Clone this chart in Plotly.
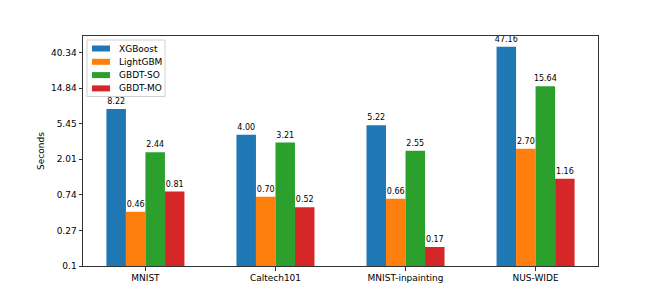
import math
import plotly.graph_objects as go

categories = ["MNIST", "Caltech101", "MNIST-inpainting", "NUS-WIDE"]
series_names = ["XGBoost", "LightGBM", "GBDT-SO", "GBDT-MO"]
xgboost = [8.22, 4.00, 5.22, 47.16]
lightgbm = [0.46, 0.70, 0.66, 2.70]
gbdt_so = [2.44, 3.21, 2.55, 15.64]
gbdt_mo = [0.81, 0.52, 0.17, 1.16]
colors = ["#1f77b4", "#ff7f0e", "#2ca02c", "#d62728"]
tick_labels = ["0.1", "0.27", "0.74", "2.01", "5.45", "14.84", "40.34"]
tick_values = [0.1 * math.e ** k for k in range(len(tick_labels))]

# page body has an 8px margin; compensate so the plot lands at the reference pixels
OFF = 8
W, H = 664 - OFF, 299 - OFF
L, R, T, B = 83 - OFF, 66, 36 - OFF, 33
PLOT_X0, PLOT_X1 = 83, 598
PLOT_Y0, PLOT_Y1 = 36, 266

def px(x):
    return (x - PLOT_X0) / (PLOT_X1 - PLOT_X0)

def py(y):
    return (PLOT_Y1 - y) / (PLOT_Y1 - PLOT_Y0)

fig = go.Figure()
for name, vals, c in zip(series_names, [xgboost, lightgbm, gbdt_so, gbdt_mo], colors):
    fig.add_trace(go.Bar(
        x=categories, y=vals, name=name, marker_color=c,
        marker_line_width=0,
        text=[f"{v:.2f}" for v in vals], textposition="outside",
        textfont=dict(size=8, color="black", family="DejaVu Sans"),
        cliponaxis=False, showlegend=False,
    ))

# legend drawn as box + patches + labels
shapes = [dict(type="rect", xref="paper", yref="paper",
               x0=px(87), x1=px(165), y0=py(96.5), y1=py(40),
               line=dict(color="#d0d0d0", width=1), fillcolor="rgba(255,255,255,0.85)",
               layer="above")]
annotations = []
row_y = [48.5, 61.8, 75.1, 88.4]
for name, c, ry in zip(series_names, colors, row_y):
    shapes.append(dict(type="rect", xref="paper", yref="paper",
                       x0=px(92), x1=px(110), y0=py(ry + 3), y1=py(ry - 3),
                       line=dict(width=0), fillcolor=c, layer="above"))
    annotations.append(dict(xref="paper", yref="paper", x=px(117), y=py(ry),
                            xanchor="left", yanchor="middle", text=name,
                            showarrow=False, font=dict(size=9, color="black")))

fig.update_layout(
    width=W, height=H,
    margin=dict(l=L, r=R, t=T, b=B),
    paper_bgcolor="white", plot_bgcolor="white",
    barmode="group", bargap=0.4, bargroupgap=0,
    font=dict(family="DejaVu Sans", size=9, color="black"),
    showlegend=False,
    uniformtext=dict(minsize=8, mode="show"),
    shapes=shapes, annotations=annotations,
)
fig.update_xaxes(range=[-0.48, 3.48], showline=True, linecolor="#333333", linewidth=1,
                 mirror=True, ticks="outside", ticklen=3.5, tickcolor="#333333",
                 showgrid=False, tickfont=dict(size=9), automargin=False)
fig.update_yaxes(type="log", range=[-1, math.log10(64)], showline=True, linecolor="#333333",
                 linewidth=1, mirror=True, ticks="outside", ticklen=3.5, tickcolor="#333333",
                 showgrid=False, tickvals=tick_values, ticktext=tick_labels,
                 title=dict(text="Seconds", font=dict(size=9), standoff=4),
                 tickfont=dict(size=9), automargin=False)

fig.write_html("out.html")
